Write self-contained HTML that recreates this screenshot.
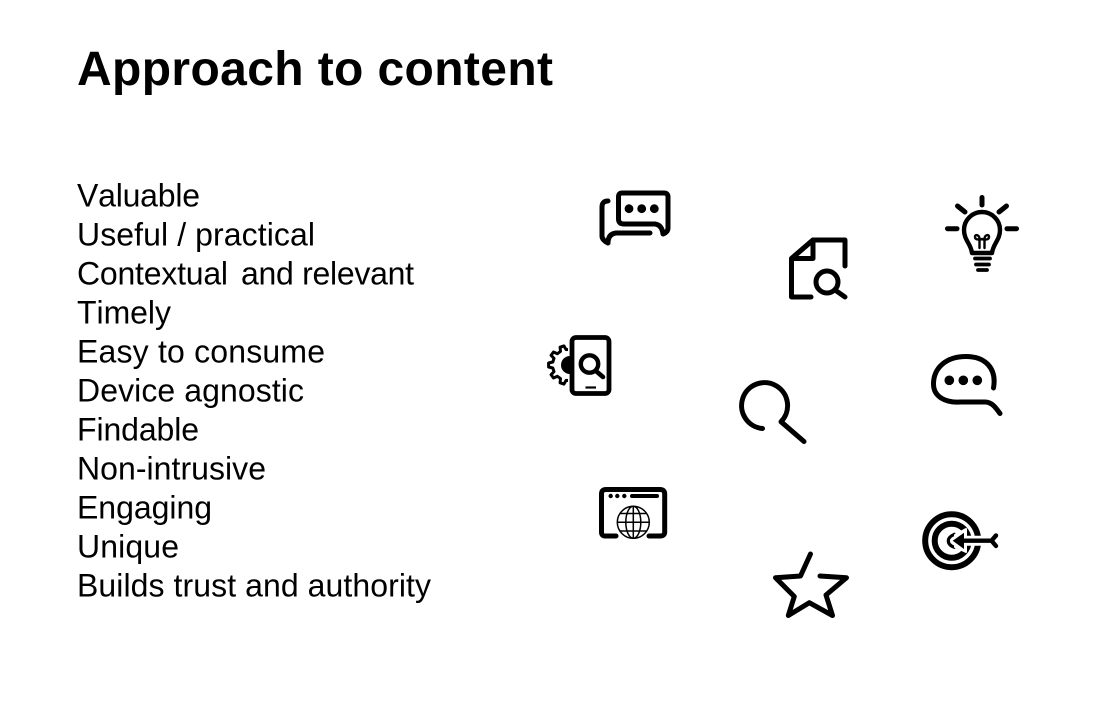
<!DOCTYPE html>
<html>
<head>
<meta charset="utf-8">
<title>Approach to content</title>
<style>
html,body{margin:0;padding:0;background:#fff;width:1112px;height:720px;overflow:hidden}
svg{display:block}
text{font-family:"Liberation Sans",Arial,sans-serif;fill:#000;font-kerning:none}
.b{font-size:32px}
.i{fill:none;stroke:#000;stroke-width:5;stroke-linecap:round;stroke-linejoin:round}
</style>
</head>
<body>
<svg width="1112" height="720" viewBox="0 0 1112 720" xmlns="http://www.w3.org/2000/svg">
<rect width="1112" height="720" fill="#fff"/>
<text x="77" y="85" font-size="48" font-weight="700" textLength="476" lengthAdjust="spacing">Approach to content</text>
<text class="b" x="77" y="206.5" textLength="123" lengthAdjust="spacing">Valuable</text>
<text class="b" x="77" y="245.5" textLength="238" lengthAdjust="spacing">Useful / practical</text>
<text class="b" x="77" y="284.5" textLength="151" lengthAdjust="spacing">Contextual</text>
<text class="b" x="241" y="284.5" textLength="173" lengthAdjust="spacing">and relevant</text>
<text class="b" x="77" y="323.5" textLength="94" lengthAdjust="spacing">Timely</text>
<text class="b" x="77" y="362.5" textLength="248" lengthAdjust="spacing">Easy to consume</text>
<text class="b" x="77" y="401.5" textLength="227" lengthAdjust="spacing">Device agnostic</text>
<text class="b" x="77" y="440.5" textLength="122" lengthAdjust="spacing">Findable</text>
<text class="b" x="77" y="479.5" textLength="189" lengthAdjust="spacing">Non-intrusive</text>
<text class="b" x="77" y="518.5" textLength="135" lengthAdjust="spacing">Engaging</text>
<text class="b" x="77" y="557.5" textLength="102" lengthAdjust="spacing">Unique</text>
<text class="b" x="77" y="596.5" textLength="354" lengthAdjust="spacing">Builds trust and authority</text>

<!-- chat bubbles -->
<g class="i">
<path d="M622,193 H664 Q668,193 668,197 V228 Q668,232 663,234 Q662,225 655,224 H624 Q618.5,224 618.5,219 V197 Q618.5,193 622,193 Z"/>
<path d="M608,201 Q602,201 602,207 V236 Q602,240 608,243 Q608,234 616,233 H650"/>
</g>
<circle cx="629" cy="208.7" r="4.4"/><circle cx="641.7" cy="208.7" r="4.4"/><circle cx="654.3" cy="208.7" r="4.4"/>

<!-- document search -->
<g class="i">
<path d="M845,266 V240 H813 L791.5,258.5 V297 H811"/>
<path d="M813,240 V258.5 H791.5 Z" fill="none"/>
<circle cx="827" cy="282" r="11"/>
<path d="M835,290 L845,297"/>
</g>

<!-- bulb -->
<g class="i">
<path d="M982,197.5 V205 M947.5,228.7 H957 M1007,228.7 H1016.5 M957.5,206 L965,212 M1006.5,206 L999,212"/>
<path d="M972,253 C971,244 964,240 964,230 A18,18 0 1 1 1000,230 C1000,240 993,244 992,253 Z" stroke-width="4.4"/>
<path d="M975,258.5 H990 M976,264.5 H989 M978,270 H987" stroke-width="3.8"/>
<path d="M979.5,248 V239 C979.5,235 975,233.5 975,237 C975,240 980,240 982,239 C984,240 989,240 989,237 C989,233.5 984.5,235 984.5,239 V248" stroke-width="2.4"/>
</g>

<!-- gear + phone -->
<path d="M568,349.5 L566.1,349.6 563.9,345.9 560.1,347.2 560.5,351.4 557.4,353.7 553.5,352 551.1,355.3 554,358.4 552.8,362 548.6,363 548.6,367 552.8,368 554,371.6 551.1,374.7 553.5,378 557.4,376.3 560.5,378.6 560.1,382.8 563.9,384.1 566.1,380.4 568,380.5" fill="none" stroke="#000" stroke-width="3" stroke-linejoin="round"/>
<path d="M570,356 A9,9 0 0 0 570,374 Z" fill="#000"/>
<rect x="572" y="337.5" width="37" height="56" rx="4" fill="#fff" stroke="#000" stroke-width="4.8"/>
<circle cx="589.5" cy="364" r="8.7" fill="none" stroke="#000" stroke-width="4.4"/>
<path d="M596,371 L603,377" stroke="#000" stroke-width="4.6" stroke-linecap="round"/>
<path d="M585.5,387.5 H596" stroke="#000" stroke-width="2.2"/>

<!-- search -->
<path class="i" d="M762.5,428.5 A23,23 0 1 1 781,421.7 L804,441.5"/>

<!-- chat 2 -->
<path class="i" d="M993.5,388 C997,368 985,356.5 966,356.5 C946,356.5 933.5,368 933.5,384 C933.5,397 946,403 960,402 H985 C992,402 996,408 1000,413.5"/>
<circle cx="949.3" cy="380.3" r="4.8"/><circle cx="963.3" cy="380.3" r="4.8"/><circle cx="977.3" cy="380.3" r="4.8"/>

<!-- browser -->
<path class="i" d="M616,536 H605 Q601.5,536 601.5,532 V494 Q601.5,489.5 606,489.5 H660 Q664.7,489.5 664.7,494 V532 Q664.7,536 660,536 H649"/>
<circle cx="610.7" cy="496" r="2.2"/><circle cx="617.3" cy="496" r="2.2"/><circle cx="624.3" cy="496" r="2.2"/>
<path d="M632,496 H657" stroke="#000" stroke-width="4" stroke-linecap="round"/>
<g fill="none" stroke="#000" stroke-width="1.5">
<circle cx="633.3" cy="522.3" r="16"/>
<ellipse cx="633.3" cy="522.3" rx="7.5" ry="16"/>
<path d="M633.3,506.3 V538.3 M617.3,522.3 H649.3 M620,513.5 H646.5 M620,531 H646.5"/>
</g>

<!-- star -->
<path class="i" d="M810.5,554 L800.5,576 L775.5,577.7 L794.3,596.5 L788.3,615.5 L809.3,602.7 L832.5,615.5 L826,595 L846.5,577.7 L820,576"/>

<!-- target -->
<g class="i">
<circle cx="951.7" cy="540.7" r="26.5" stroke-width="6"/>
<circle cx="951.7" cy="540.7" r="17" stroke-width="6"/>
<path d="M954.3,534.3 Q948.3,537 948.3,540.7 Q948.3,545 954.3,547.3" stroke-width="3.2"/>
<path d="M960,540.7 H992" stroke="#fff" stroke-width="10" stroke-linecap="butt"/>
<path d="M955,535 L955,547 L966,552 L966,529 Z" fill="#fff" stroke="#fff" stroke-width="2"/>
<path d="M960,540.7 H991" stroke-width="4.4"/>
<path d="M996,535.5 L991.5,540.7 L996,546" stroke-width="4.4"/>
</g>
<path d="M952.7,540.7 L964,532.7 V549 Z" fill="#000"/>
</svg>
</body>
</html>
